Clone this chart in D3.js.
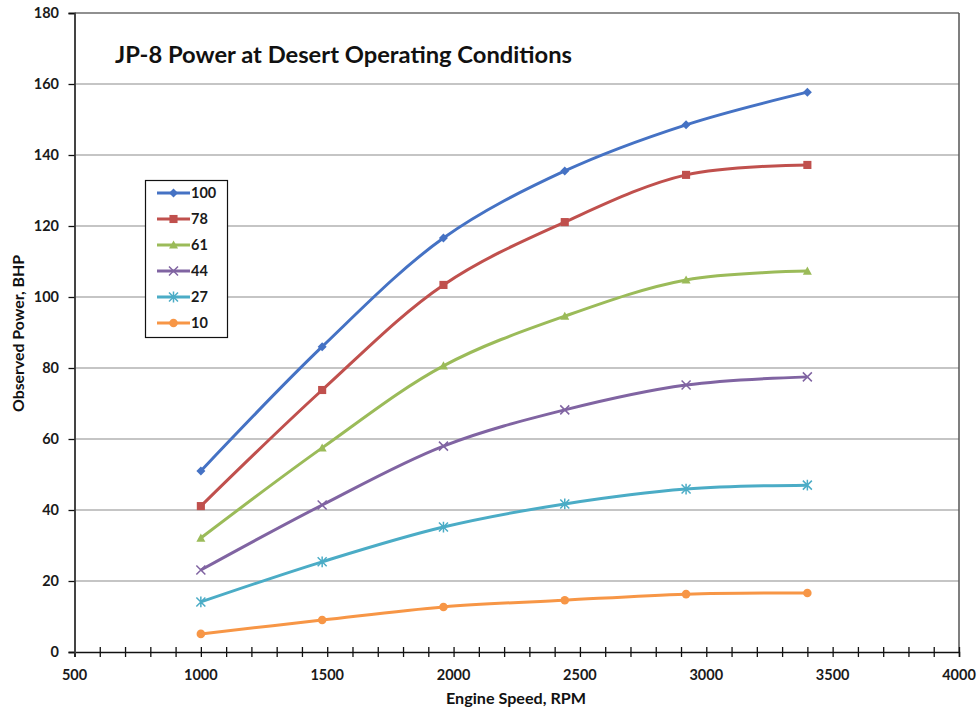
<!DOCTYPE html>
<html><head><meta charset="utf-8">
<script src="https://cdn.jsdelivr.net/npm/d3@7"></script>
<style>body{margin:0;background:#fff}svg{display:block}text{font-family:Lato,"Open Sans",sans-serif}</style>
</head><body>
<svg id="c" width="980" height="715"></svg>
<script>
const rpm = [1000, 1480, 1960, 2440, 2920, 3400];
const seriesNames = ["100", "78", "61", "44", "27", "10"];
const s100 = [51, 86, 116.6, 135.5, 148.5, 157.7];
const s78 = [41.1, 73.8, 103.4, 121.1, 134.4, 137.2];
const s61 = [32.1, 57.5, 80.6, 94.6, 104.8, 107.3];
const s44 = [23.1, 41.4, 58, 68.2, 75.2, 77.5];
const s27 = [14.1, 25.4, 35.2, 41.7, 45.9, 47];
const s10 = [5.1, 9, 12.7, 14.6, 16.3, 16.6];
const xTicks = [500, 1000, 1500, 2000, 2500, 3000, 3500, 4000];
const yTicks = [0, 20, 40, 60, 80, 100, 120, 140, 160, 180];
const colors = ["#4572C4", "#C0504D", "#9BBB59", "#8064A2", "#4BACC6", "#F79646"];
const markers = ["diamond", "square", "triangle", "x", "star", "circle"];
const values = [s100, s78, s61, s44, s27, s10];

const svg = d3.select("#c");
const x = d3.scaleLinear().domain([500, 4000]).range([74.5, 959]);
const y = d3.scaleLinear().domain([0, 180]).range([652, 13]);

// gridlines
svg.append("g").selectAll("line").data(yTicks.slice(1)).join("line")
  .attr("x1", x(500)).attr("x2", x(4000)).attr("y1", d => y(d)).attr("y2", d => y(d))
  .attr("stroke", d => d === 180 ? "#222" : "#8c8c8c").attr("stroke-width", 1.2);
// right border
svg.append("line").attr("x1", x(4000)).attr("x2", x(4000)).attr("y1", y(180)).attr("y2", y(0))
  .attr("stroke", "#555").attr("stroke-width", 1.5);

// x axis
const xAxis = svg.append("g").attr("transform", `translate(0,${y(0)})`)
  .call(d3.axisBottom(x).tickValues(d3.range(500, 4001, 100)).tickSize(5).tickFormat(""));
xAxis.selectAll(".tick line").attr("y1", -5).attr("y2", 5).attr("stroke", "#111").attr("stroke-width", 1.3);
xAxis.select(".domain").attr("stroke", "#111").attr("stroke-width", 1.5);
svg.append("g").selectAll("text").data(xTicks).join("text")
  .attr("x", d => x(d)).attr("y", 680).attr("text-anchor", "middle")
  .attr("font-size", 14.5).attr("font-weight", "bold").attr("fill", "#1a1a1a").text(d => d);

// y axis
const yAxis = svg.append("g").attr("transform", `translate(${x(500)},0)`)
  .call(d3.axisLeft(y).tickValues(yTicks).tickSize(6).tickFormat(""));
yAxis.selectAll(".tick line").attr("stroke", "#111").attr("stroke-width", 1.3);
yAxis.select(".domain").attr("stroke", "#444").attr("stroke-width", 2);
svg.append("g").selectAll("text").data(yTicks).join("text")
  .attr("x", 59).attr("y", d => y(d) + 5).attr("text-anchor", "end")
  .attr("font-size", 14.5).attr("font-weight", "bold").attr("fill", "#1a1a1a").text(d => d);

// axis titles
svg.append("text").attr("x", 516).attr("y", 704).attr("text-anchor", "middle")
  .attr("font-size", 15).attr("font-weight", "bold").attr("fill", "#111")
  .attr("textLength", 140).attr("lengthAdjust", "spacingAndGlyphs").text("Engine Speed, RPM");
svg.append("text").attr("transform", "translate(24,333.5) rotate(-90)").attr("text-anchor", "middle")
  .attr("font-size", 15).attr("font-weight", "bold").attr("fill", "#111")
  .attr("textLength", 157).attr("lengthAdjust", "spacingAndGlyphs").text("Observed Power, BHP");

// title
svg.append("text").attr("x", 115).attr("y", 63).attr("font-size", 23.5).attr("font-weight", "bold")
  .attr("fill", "#111").attr("textLength", 457).attr("lengthAdjust", "spacingAndGlyphs")
  .text("JP-8 Power at Desert Operating Conditions");

function drawMarker(g, type, color, size) {
  const s = size;
  if (type === "diamond") g.append("path").attr("d", `M0,${-s}L${s},0L0,${s}L${-s},0Z`).attr("fill", color);
  else if (type === "square") g.append("rect").attr("x", -s * 0.9).attr("y", -s * 0.9).attr("width", s * 1.8).attr("height", s * 1.8).attr("fill", color);
  else if (type === "triangle") g.append("path").attr("d", `M0,${-s}L${s},${s * 0.8}L${-s},${s * 0.8}Z`).attr("fill", color);
  else if (type === "circle") g.append("circle").attr("r", s * 0.95).attr("fill", color);
  else if (type === "x") g.append("path").attr("d", `M${-s},${-s}L${s},${s}M${-s},${s}L${s},${-s}`).attr("stroke", color).attr("stroke-width", 1.5);
  else if (type === "star") g.append("path").attr("d", `M${-s},${-s}L${s},${s}M${-s},${s}L${s},${-s}M0,${-s * 1.2}L0,${s * 1.2}`).attr("stroke", color).attr("stroke-width", 1.5);
}

const line = d3.line().x((d, i) => x(rpm[i])).y(d => y(d)).curve(d3.curveCatmullRom.alpha(0.5));
values.forEach((vals, k) => {
  const g = svg.append("g");
  g.append("path").attr("d", line(vals)).attr("fill", "none").attr("stroke", colors[k]).attr("stroke-width", 3);
  vals.forEach((v, i) => {
    const mg = g.append("g").attr("transform", `translate(${x(rpm[i])},${y(v)})`);
    drawMarker(mg, markers[k], colors[k], 4.5);
  });
});

// legend
const lg = svg.append("g");
lg.append("rect").attr("x", 145.5).attr("y", 180.5).attr("width", 82).attr("height", 157)
  .attr("fill", "#fff").attr("stroke", "#111").attr("stroke-width", 1.2);
seriesNames.forEach((n, k) => {
  const yy = 193 + k * 26;
  lg.append("line").attr("x1", 157).attr("x2", 190).attr("y1", yy).attr("y2", yy)
    .attr("stroke", colors[k]).attr("stroke-width", 3);
  const mg = lg.append("g").attr("transform", `translate(173.5,${yy})`);
  drawMarker(mg, markers[k], colors[k], 4.5);
  lg.append("text").attr("x", 191).attr("y", yy + 5).attr("font-size", 14.5).attr("font-weight", "bold")
    .attr("fill", "#1a1a1a").text(n);
});
</script>
</body></html>
